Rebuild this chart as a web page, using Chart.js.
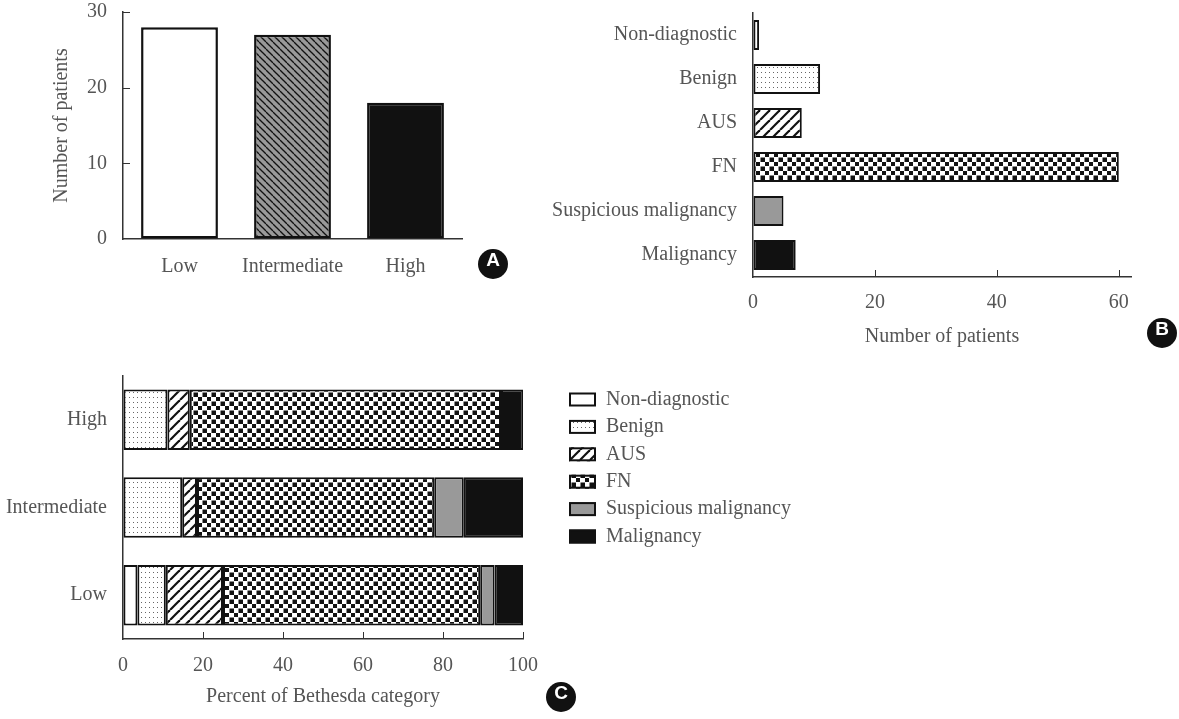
<!DOCTYPE html>
<html>
<head>
<meta charset="utf-8">
<script src="https://cdn.jsdelivr.net/npm/chart.js@4.4.1/dist/chart.umd.min.js"></script>
<style>
  body { margin: 0; background: #fff; }
  #wrap { position: relative; width: 1179px; height: 719px; overflow: hidden; }
  canvas { position: absolute; }
  .badge {
    position: absolute; width: 30px; height: 30px; border-radius: 50%;
    background: #111; color: #fff; text-align: center; line-height: 30px;
    font: bold 19px "Liberation Sans", Arial, sans-serif;
  }
</style>
</head>
<body>
<div id="wrap">
  <canvas id="chartA" width="530" height="295" style="left:0;top:0"></canvas>
  <canvas id="chartB" width="639" height="360" style="left:540px;top:0"></canvas>
  <canvas id="chartC" width="820" height="349" style="left:0;top:370px"></canvas>
  <div class="badge" style="left:478px;top:249px">A</div>
  <div class="badge" style="left:1147px;top:318px">B</div>
  <div class="badge" style="left:546px;top:682px">C</div>
</div>
<script>
// panel A - patients per risk group
var gradeLabels = ['Low', 'Intermediate', 'High'];
var gradeCounts = [28, 27, 18];
var gradeTicks = [0, 10, 20, 30];

// panel B - patients per Bethesda category
var bethesdaLabels = ['Non-diagnostic', 'Benign', 'AUS', 'FN', 'Suspicious malignancy', 'Malignancy'];
var bethesdaCounts = [1, 11, 8, 60, 5, 7];
var countTicks = [0, 20, 40, 60];

// panel C - percent of Bethesda category per risk group
var pctGrades = ['High', 'Intermediate', 'Low'];
var pctNonDiagnostic = [0, 0, 3.6];
var pctBenign = [11.1, 14.8, 7.1];
var pctAUS = [5.6, 3.7, 14.3];
var pctFN = [77.8, 59.3, 64.3];
var pctSuspicious = [0, 7.4, 3.6];
var pctMalignancy = [5.6, 14.8, 7.1];
var pctTicks = [0, 20, 40, 60, 80, 100];

var INK = '#111';
var AXIS = '#333';
var TEXT = '#555';

Chart.defaults.font.family = '"Liberation Serif", "Times New Roman", serif';
Chart.defaults.font.size = 20;
Chart.defaults.color = TEXT;
Chart.defaults.animation = false;

function tile(w, h, draw) {
  var c = document.createElement('canvas');
  c.width = w; c.height = h;
  var g = c.getContext('2d');
  draw(g, w, h);
  return g.createPattern(c, 'repeat');
}

var dots = tile(4, 5, function(g, w, h) {
  g.fillStyle = '#fff'; g.fillRect(0, 0, w, h);
  g.fillStyle = '#666'; g.fillRect(1, 2, 1, 1);
});
var slash = tile(10, 10, function(g, w, h) {
  g.fillStyle = '#fff'; g.fillRect(0, 0, w, h);
  g.strokeStyle = INK; g.lineWidth = 2.2;
  [-10, 0, 10].forEach(function(k) {
    g.beginPath(); g.moveTo(k, h); g.lineTo(k + w, 0); g.stroke();
  });
});
var grayHatch = tile(7, 7, function(g, w, h) {
  g.fillStyle = '#999'; g.fillRect(0, 0, w, h);
  g.strokeStyle = INK; g.lineWidth = 1.3;
  [-7, 0, 7].forEach(function(k) {
    g.beginPath(); g.moveTo(k, 0); g.lineTo(k + w, h); g.stroke();
  });
});
var checker = tile(9, 9, function(g, w, h) {
  g.fillStyle = '#fff'; g.fillRect(0, 0, w, h);
  g.fillStyle = INK; g.fillRect(0, 0, 4, 4); g.fillRect(4.5, 4.5, 4.5, 4.5);
});

var bethesdaFills = ['#fff', dots, slash, checker, '#999', INK];

// ticks pointing into the plot area
var innerTicks = {
  id: 'innerTicks',
  afterDatasetsDraw: function(chart) {
    var ctx = chart.ctx;
    ctx.save();
    ctx.strokeStyle = AXIS;
    ctx.lineWidth = 1;
    Object.keys(chart.scales).forEach(function(id) {
      var s = chart.scales[id];
      if (s.type !== 'linear') return;
      s.ticks.forEach(function(t) {
        if (t.value === 0) return;
        var p = Math.round(s.getPixelForValue(t.value)) + 0.5;
        ctx.beginPath();
        if (s.isHorizontal()) { ctx.moveTo(p, s.top); ctx.lineTo(p, s.top - 7); }
        else { ctx.moveTo(s.right, p); ctx.lineTo(s.right + 7, p); }
        ctx.stroke();
      });
    });
    ctx.restore();
  }
};

// legend for panel C, to the right of the plot
var sideLegend = {
  id: 'sideLegend',
  afterDraw: function(chart) {
    var ctx = chart.ctx;
    var x = chart.chartArea.right + 46;
    var y0 = chart.chartArea.top + 23.5;
    ctx.save();
    chart.data.datasets.forEach(function(ds, i) {
      var y = y0 + i * 27.4;
      ctx.fillStyle = ds.backgroundColor;
      ctx.fillRect(x, y - 7, 27, 14);
      ctx.lineWidth = 2;
      ctx.strokeStyle = INK;
      ctx.strokeRect(x + 1, y - 6, 25, 12);
      ctx.fillStyle = TEXT;
      ctx.font = '20px "Liberation Serif", serif';
      ctx.textBaseline = 'middle';
      ctx.fillText(ds.label, x + 37, y);
    });
    ctx.restore();
  }
};

function setTicks(list) {
  return function(scale) {
    scale.ticks = list.map(function(v) { return { value: v }; });
  };
}
// fixed axis sizes so the plot areas sit where the figure has them
function fixWidth(w) {
  return function(scale) { scale.width = w; scale.paddingTop = 0; scale.paddingBottom = 0; };
}
function fixHeight(h) {
  return function(scale) { scale.height = h; scale.paddingLeft = 0; scale.paddingRight = 0; };
}

var axisBorder = { display: true, color: AXIS, width: 1.5 };
var noGrid = { drawOnChartArea: false, drawTicks: false };

// A
new Chart(document.getElementById('chartA'), {
  type: 'bar',
  data: {
    labels: gradeLabels,
    datasets: [{
      data: gradeCounts,
      backgroundColor: ['#fff', grayHatch, INK],
      borderColor: INK,
      borderWidth: 2.5,
      borderSkipped: false,
      barPercentage: 0.68,
      categoryPercentage: 1
    }]
  },
  options: {
    responsive: false,
    layout: { padding: { top: 12, right: 68, bottom: 0, left: 0 } },
    plugins: { legend: { display: false }, tooltip: { enabled: false } },
    scales: {
      x: {
        grid: noGrid, border: axisBorder,
        ticks: { padding: 16 },
        afterFit: fixHeight(56)
      },
      y: {
        min: 0, max: 30,
        grid: noGrid, border: axisBorder,
        afterBuildTicks: setTicks(gradeTicks),
        ticks: { padding: 16 },
        title: { display: true, text: 'Number of patients', padding: { top: 50 } },
        afterFit: fixWidth(123)
      }
    }
  },
  plugins: [innerTicks]
});

// B
new Chart(document.getElementById('chartB'), {
  type: 'bar',
  data: {
    labels: bethesdaLabels,
    datasets: [{
      data: bethesdaCounts,
      backgroundColor: bethesdaFills,
      borderColor: INK,
      borderWidth: 2,
      borderSkipped: false,
      barPercentage: 0.68,
      categoryPercentage: 1
    }]
  },
  options: {
    indexAxis: 'y',
    responsive: false,
    layout: { padding: { top: 13, right: 48, bottom: 0, left: 0 } },
    plugins: { legend: { display: false }, tooltip: { enabled: false } },
    scales: {
      x: {
        min: 0, max: 62,
        grid: noGrid, border: axisBorder,
        afterBuildTicks: setTicks(countTicks),
        ticks: { padding: 14 },
        title: { display: true, text: 'Number of patients', padding: { bottom: 11 } },
        afterFit: fixHeight(83)
      },
      y: {
        grid: noGrid, border: axisBorder,
        ticks: { padding: 16 },
        afterFit: fixWidth(213)
      }
    }
  },
  plugins: [innerTicks]
});

// C
var pctSeries = [pctNonDiagnostic, pctBenign, pctAUS, pctFN, pctSuspicious, pctMalignancy];
new Chart(document.getElementById('chartC'), {
  type: 'bar',
  data: {
    labels: pctGrades,
    datasets: pctSeries.map(function(vals, i) {
      return {
        label: bethesdaLabels[i],
        data: vals,
        backgroundColor: bethesdaFills[i],
        borderColor: INK,
        borderWidth: 2,
        borderSkipped: false,
        barPercentage: 0.69,
        categoryPercentage: 1
      };
    })
  },
  options: {
    indexAxis: 'y',
    responsive: false,
    layout: { padding: { top: 6, right: 297, bottom: 0, left: 0 } },
    plugins: { legend: { display: false }, tooltip: { enabled: false } },
    scales: {
      x: {
        stacked: true, min: 0, max: 100,
        grid: noGrid, border: axisBorder,
        afterBuildTicks: setTicks(pctTicks),
        ticks: { padding: 15 },
        title: { display: true, text: 'Percent of Bethesda category', padding: { bottom: 10 } },
        afterFit: fixHeight(80)
      },
      y: {
        stacked: true,
        grid: noGrid, border: axisBorder,
        ticks: { padding: 16 },
        afterFit: fixWidth(123)
      }
    }
  },
  plugins: [innerTicks, sideLegend]
});
</script>
</body>
</html>
